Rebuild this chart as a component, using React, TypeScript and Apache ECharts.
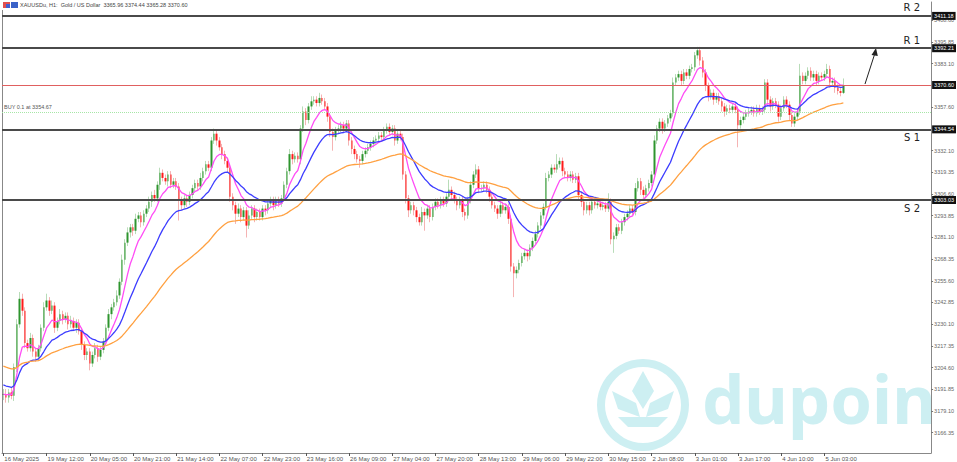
import React, { useEffect, useRef } from 'react';
import * as echarts from 'echarts';

// ---- data (XAUUSD H1) ----
const closes = [
  3189,3187,3190,3188,3205,3230,3245,3238,3219,3216,3222,3214,3211,3216,3228,3240,
  3244,3238,3241,3228,3232,3236,3233,3235,3230,3232,3228,3231,3226,3218,3212,3214,
  3207,3212,3216,3211,3215,3220,3228,3236,3240,3243,3247,3255,3268,3278,3284,3287,
  3285,3292,3294,3290,3295,3298,3302,3306,3304,3312,3319,3316,3314,3318,3312,3314,
  3311,3303,3300,3304,3302,3306,3310,3313,3311,3316,3320,3324,3322,3338,3342,3338,
  3334,3330,3326,3322,3305,3300,3295,3298,3293,3297,3288,3294,3298,3293,3296,3293,
  3298,3297,3301,3303,3300,3303,3301,3304,3312,3320,3330,3327,3329,3327,3345,3355,
  3350,3358,3361,3362,3360,3363,3361,3358,3352,3343,3340,3344,3345,3347,3345,3348,
  3338,3333,3330,3327,3326,3330,3332,3334,3336,3338,3339,3341,3340,3344,3346,3343,
  3345,3338,3342,3340,3318,3304,3297,3300,3297,3293,3290,3296,3294,3298,3293,3299,
  3302,3300,3303,3301,3305,3309,3306,3303,3300,3303,3296,3294,3303,3312,3318,3321,
  3310,3310,3312,3309,3305,3300,3298,3295,3300,3297,3299,3292,3264,3260,3262,3266,
  3270,3272,3270,3275,3279,3283,3288,3294,3299,3316,3318,3322,3321,3324,3326,3320,
  3318,3316,3318,3315,3317,3306,3302,3297,3300,3297,3302,3300,3301,3299,3300,3298,
  3302,3280,3282,3287,3285,3290,3293,3295,3298,3296,3310,3314,3309,3306,3310,3313,
  3318,3338,3345,3349,3345,3348,3351,3354,3372,3375,3377,3373,3378,3376,3380,3381,
  3388,3391,3385,3378,3370,3364,3366,3362,3364,3361,3358,3355,3357,3356,3358,3356,
  3347,3350,3352,3354,3355,3356,3354,3357,3355,3356,3372,3362,3358,3361,3359,3352,
  3357,3362,3359,3353,3348,3352,3355,3376,3373,3376,3379,3375,3377,3373,3376,3375,
  3377,3380,3372,3373,3369,3367,3365.96,3370.6,
];
const firstOpen = 3188.5;
const upperWicks = [
  3,3,2,3,2,3,4,3,2,2,3,2,2,2,2,3,
  4,2,3,2,2,3,2,2,2,3,2,2,2,2,2,2,
  2,2,3,2,2,2,2,3,2,2,3,2,3,2,3,2,
  2,3,2,2,2,2,3,2,3,2,3,2,2,2,2,2,
  2,2,2,2,2,2,2,2,2,3,2,2,2,2,3,2,
  2,2,2,2,2,2,2,3,2,2,2,3,2,2,2,2,
  2,2,2,2,2,2,2,2,2,2,3,2,2,2,2,3,
  2,2,3,2,2,3,2,2,2,2,2,2,2,2,2,2,
  2,2,2,2,2,2,2,2,2,2,2,2,2,2,2,2,
  2,2,2,2,2,2,2,2,2,2,2,3,2,2,2,2,
  2,2,2,2,2,6,2,2,2,2,2,2,2,2,2,3,
  2,2,2,2,2,2,2,2,2,2,2,2,2,2,2,2,
  2,2,2,2,2,2,2,2,2,3,2,2,2,6,2,2,
  2,2,2,2,2,2,2,2,2,2,2,2,2,2,2,2,
  5,2,2,2,2,2,2,2,2,2,3,2,2,2,2,2,
  2,3,2,2,2,2,2,2,3,2,2,2,2,2,2,2,
  2,2,2,2,2,2,2,2,2,2,2,2,2,2,2,2,
  2,2,2,2,2,2,2,2,2,2,2,2,2,2,2,2,
  2,2,2,2,2,2,2,7,2,2,2,2,2,2,2,2,
  2,3,2,2,2,2,2,3.84,
];
const lowerWicks = [
  3,3,3,2,3,3,2,3,3,2,2,3,3,2,2,2,
  2,3,2,3,2,2,3,2,3,2,2,3,2,3,3,3,
  4,2,2,3,2,2,2,2,3,2,2,2,2,3,2,3,
  3,2,2,3,2,2,2,3,2,2,3,2,2,3,2,2,
  2,12,3,2,3,2,2,2,2,2,2,2,2,2,2,3,
  2,3,2,3,3,3,6,2,3,2,7,2,2,3,2,2,
  2,3,2,2,3,2,2,2,2,2,2,3,2,2,3,2,
  3,2,2,2,2,2,2,2,3,3,8,2,2,2,2,2,
  3,3,3,2,4,2,2,2,2,2,2,2,2,2,2,2,
  2,3,2,2,3,3,4,2,3,3,2,2,9,2,3,2,
  2,2,2,2,2,2,3,2,3,2,3,3,2,2,2,2,
  3,2,2,2,3,2,2,3,2,2,2,3,3,14,3,2,
  2,2,3,2,2,2,2,2,2,2,2,2,2,2,2,3,
  2,2,2,2,2,3,3,3,2,3,2,2,2,2,2,2,
  2,3,8,2,2,2,2,2,2,2,2,2,3,2,2,2,
  2,2,2,2,3,2,2,2,2,2,2,3,2,2,2,2,
  2,2,3,3,3,3,2,3,2,2,3,3,2,2,2,2,
  13,2,2,2,2,2,2,2,2,2,2,3,3,2,2,3,
  2,2,2,3,2,2,2,2,2,2,2,2,2,3,2,2,
  2,2,3,2,3,2,2,0.68,
];
const tickBars = [0,16,32,48,64,80,96,112,128,144,160,176,192,208,224,240,256,272,288,304];
const tickLabels = [
  '16 May 2025','19 May 12:00','20 May 05:00','20 May 21:00','21 May 14:00','22 May 07:00',
  '22 May 23:00','23 May 16:00','26 May 09:00','27 May 04:00','27 May 20:00','28 May 13:00',
  '29 May 06:00','29 May 22:00','30 May 15:00','2 Jun 08:00','3 Jun 01:00','3 Jun 17:00',
  '4 Jun 10:00','5 Jun 03:00',
];
const yTickValues = [
  3166.35,3179.10,3191.85,3204.60,3217.35,3230.10,3242.85,3255.60,3268.35,3281.10,
  3293.85,3306.60,3319.35,3332.10,3357.60,3383.10,3395.85,3408.60,
];
const srLevels = [3411.18, 3392.21, 3344.54, 3303.03];
const srNames = ['R 2', 'R 1', 'S 1', 'S 2'];
const lastPrice = 3370.6;
const buyPrice = 3354.67;
const maPeriods = [8, 21, 60];
const maSeeds = [3189, 3195, 3206];
const maColors = ['#ff4df5', '#3d3dff', '#ffa040'];
const slotCount = 344;

function ema(values: number[], period: number, seed: number) {
  const k = 2 / (period + 1);
  let prev = seed;
  return values.map((v) => (prev = prev + k * (v - prev)));
}

export default function App() {
  const ref = useRef<HTMLDivElement>(null);
  useEffect(() => {
    document.body.style.margin = '0';
    if (!ref.current) return;
    const chart = echarts.init(ref.current, undefined, { renderer: 'svg' });
    const opens = closes.map((_, i) => (i === 0 ? firstOpen : closes[i - 1]));
    const wickData = closes.map((c, i) => {
      const o = opens[i];
      return [o, c, Math.min(o, c) - lowerWicks[i], Math.max(o, c) + upperWicks[i]];
    });
    const bodyData = closes.map((c, i) => {
      const o = opens[i];
      return [o, c, Math.min(o, c), Math.max(o, c)];
    });
    const categories = Array.from({ length: slotCount }, (_, i) => String(i));
    const labelMap: Record<number, string> = {};
    tickBars.forEach((b, k) => (labelMap[b] = tickLabels[k]));
    const showTick = (idx: number) => labelMap[idx] !== undefined;
    const font = 'Liberation Sans, Arial, sans-serif';
    const boxLabel = (v: number) => ({
      show: true,
      position: 'end',
      formatter: v.toFixed(2),
      backgroundColor: '#111',
      color: '#fff',
      fontSize: 5.5,
      fontFamily: font,
      padding: [1, 2, 1, 2],
      distance: 1,
    });

    chart.setOption({
      animation: false,
      grid: { left: 2, right: 24, top: 2, bottom: 9 },
      xAxis: {
        type: 'category',
        data: categories,
        boundaryGap: true,
        axisLine: { show: true, lineStyle: { color: '#888', width: 1 } },
        axisTick: {
          show: true,
          alignWithLabel: true,
          interval: (idx: number) => showTick(idx),
          length: 3,
          lineStyle: { color: '#555' },
        },
        axisLabel: {
          interval: (idx: number) => showTick(idx),
          formatter: (_v: string, idx: number) => labelMap[idx] ?? '',
          align: 'left',
          fontSize: 6,
          fontFamily: font,
          color: '#555',
          margin: 3,
          padding: [0, 0, 0, 1],
        },
        splitLine: { show: false },
      },
      yAxis: {
        type: 'value',
        position: 'right',
        min: 3154.43,
        max: 3419.35,
        scale: true,
        axisLine: { show: true, lineStyle: { color: '#888', width: 1 } },
        axisTick: { show: true, customValues: yTickValues, length: 2, lineStyle: { color: '#777' } },
        axisLabel: {
          customValues: yTickValues,
          formatter: (v: number) => v.toFixed(2),
          fontSize: 5.5,
          fontFamily: font,
          color: '#666',
          margin: 3,
        },
        splitLine: { show: false },
      },
      series: [
        {
          type: 'candlestick',
          name: 'wicks',
          data: wickData,
          barWidth: 1,
          itemStyle: {
            color: '#b8dcb8',
            color0: '#f5b3b3',
            borderColor: '#b8dcb8',
            borderColor0: '#f5b3b3',
            borderWidth: 1,
          },
          markLine: {
            symbol: 'none',
            silent: true,
            data: [
              ...srLevels.map((v) => ({
                yAxis: v,
                lineStyle: { color: '#4a4a4a', width: 2, type: 'solid' },
                label: boxLabel(v),
              })),
              { yAxis: lastPrice, lineStyle: { color: '#e06060', width: 1, type: 'solid' }, label: boxLabel(lastPrice) },
              {
                yAxis: buyPrice,
                lineStyle: { color: '#a6e6a6', width: 1, type: 'dotted' },
                label: {
                  show: true,
                  position: 'insideStartTop',
                  formatter: 'BUY 0.1 at ' + buyPrice.toFixed(2),
                  color: '#555',
                  fontSize: 5.5,
                  fontFamily: font,
                  distance: [2, 2],
                },
              },
            ],
          },
        },
        {
          type: 'candlestick',
          name: 'bodies',
          data: bodyData,
          barWidth: 2,
          itemStyle: {
            color: '#2e952e',
            color0: '#ff1a1a',
            borderColor: '#2e952e',
            borderColor0: '#ff1a1a',
            borderWidth: 0,
          },
        },
        ...maPeriods.map((p, k) => ({
          type: 'line',
          name: 'MA' + p,
          data: ema(closes, p, maSeeds[k]),
          showSymbol: false,
          symbol: 'none',
          smooth: false,
          lineStyle: { color: maColors[k], width: 1.3 },
          z: 3,
        })),
      ],
    });

    const srTexts = srLevels.map((v, k) => {
      const py = chart.convertToPixel({ yAxisIndex: 0 }, v) as number;
      return {
        type: 'text',
        x: 920,
        y: k < 2 ? py - 8 : py + 8,
        silent: true,
        style: {
          text: srNames[k],
          fontSize: 10,
          fontFamily: 'DejaVu Sans, sans-serif',
          fill: '#222',
          align: 'right',
          verticalAlign: 'middle',
        },
      };
    });

    chart.setOption({
      graphic: [
        ...srTexts,
        { type: 'line', shape: { x1: 2.5, y1: 10, x2: 2.5, y2: 453 }, style: { stroke: '#888', lineWidth: 1 }, silent: true },
        { type: 'rect', shape: { x: 3, y: 2, width: 7, height: 6 }, style: { fill: '#e05050' }, silent: true },
        { type: 'rect', shape: { x: 6, y: 4, width: 4, height: 4 }, style: { fill: '#4060d0' }, silent: true },
        { type: 'rect', shape: { x: 11, y: 2, width: 7, height: 6 }, style: { fill: '#3a62c8' }, silent: true },
        {
          type: 'text',
          x: 20,
          y: 2,
          style: {
            text: 'XAUUSDu, H1:  Gold / US Dollar  3365.96 3374.44 3365.28 3370.60',
            fontSize: 5.5,
            fontFamily: font,
            fill: '#444',
          },
          silent: true,
        },
        // arrow
        { type: 'line', shape: { x1: 865, y1: 84, x2: 875, y2: 53 }, style: { stroke: '#222', lineWidth: 1 }, silent: true },
        { type: 'polygon', shape: { points: [[876, 48], [871.5, 55], [877.8, 56]] }, style: { fill: '#222' }, silent: true },
        // watermark
        {
          type: 'group',
          silent: true,
          z: -1,
          children: [
            { type: 'ring', shape: { cx: 643, cy: 405, r: 46, r0: 38 }, style: { fill: '#cdeff2' } },
            { type: 'polygon', shape: { points: [[643, 371], [654, 391], [643, 409], [632, 391]] }, style: { fill: '#cdeff2' } },
            { type: 'polygon', shape: { points: [[612, 391], [636, 403], [640, 417], [618, 409]] }, style: { fill: '#cdeff2' } },
            { type: 'polygon', shape: { points: [[674, 391], [650, 403], [646, 417], [668, 409]] }, style: { fill: '#cdeff2' } },
            { type: 'polygon', shape: { points: [[618, 417], [668, 417], [658, 427], [628, 427]] }, style: { fill: '#cdeff2' } },
            {
              type: 'text',
              x: 702,
              y: 398,
              style: {
                text: 'dupoin',
                fontSize: 67,
                fontWeight: 'bold',
                fontFamily: 'Noto Sans, sans-serif',
                fill: '#cdeff2',
                verticalAlign: 'middle',
              },
            },
          ],
        },
      ],
    });
    return () => chart.dispose();
  }, []);
  return <div ref={ref} style={{ width: 957, height: 462 }} />;
}
